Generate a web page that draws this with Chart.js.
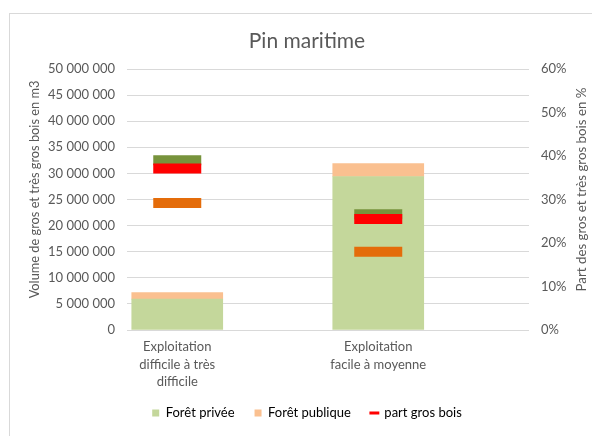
<!DOCTYPE html>
<html>
<head>
<meta charset="utf-8">
<script src="https://cdn.jsdelivr.net/npm/chart.js@4"></script>
<style>
  html, body { margin: 0; padding: 0; background: #fff; overflow: hidden; }
  #wrap { position: relative; width: 592px; height: 436px; overflow: hidden; }
  #frame { position: absolute; left: 9px; top: 13px; width: 700px; height: 600px;
           border: 1px solid #d9d9d9; box-sizing: border-box; }
  #c { position: absolute; left: 0; top: 0; }
</style>
</head>
<body>
<div id="wrap">
  <div id="frame"></div>
  <canvas id="c" width="592" height="436"></canvas>
</div>
<script>
// Catégories d'exploitabilité (libellés sur plusieurs lignes)
const categories = [
  ["Exploitation", "difficile à très", "difficile"],
  ["Exploitation", "facile à moyenne"]
];

// Volumes de gros et très gros bois (m3)
const foretPrivee   = [5900000, 29400000];
const foretPublique = [1250000, 2500000];

// Part des gros et très gros bois (%)
const partGrosBois  = [37.1, 25.5];
const partPrivee    = [39.0, 26.6];
const partPublique  = [29.2, 18.0];

// Titres des deux axes verticaux (lus de bas en haut)
const titreVolume = 'Volume de gros et très gros bois en m3';
const titrePart   = 'Part des gros et très gros bois en %';

const TXT = '#595959';
const FONT = 'Lato';

const toPoints = arr => arr.map((v, i) => ({ x: i, y: v }));
const spaced = v => String(v).replace(/\B(?=(\d{3})+(?!\d))/g, ' ');

function marker(label, values, color, order) {
  return {
    type: 'line', label, data: toPoints(values), yAxisID: 'y1',
    showLine: false, pointStyle: 'line',
    pointRadius: 24, pointHoverRadius: 24,
    pointBorderWidth: 10, pointHoverBorderWidth: 10,
    borderColor: color, backgroundColor: color, order
  };
}

// Draws both vertical axis titles rotated bottom-to-top
const verticalTitles = {
  id: 'verticalTitles',
  afterDraw(chart) {
    const { ctx, chartArea } = chart;
    const midY = (chartArea.top + chartArea.bottom) / 2 - 10;
    const items = [
      { text: titreVolume, x: 35, size: 12.8 },
      { text: titrePart, x: 582, size: 13.3 }
    ];
    ctx.save();
    ctx.fillStyle = TXT;
    ctx.textAlign = 'center';
    ctx.textBaseline = 'middle';
    for (const it of items) {
      ctx.save();
      ctx.font = it.size + 'px ' + FONT;
      ctx.translate(it.x, midY);
      ctx.rotate(-Math.PI / 2);
      ctx.fillText(it.text, 0, 0);
      ctx.restore();
    }
    ctx.restore();
  }
};

function draw() {
  new Chart(document.getElementById('c'), {
    type: 'bar',
    plugins: [verticalTitles],
    data: {
      datasets: [
        { type: 'bar', label: 'Forêt privée', data: toPoints(foretPrivee),
          backgroundColor: '#C4D79B', yAxisID: 'y', barThickness: 91, order: 2 },
        { type: 'bar', label: 'Forêt publique', data: toPoints(foretPublique),
          backgroundColor: '#FAC090', yAxisID: 'y', barThickness: 91, order: 2 },
        marker('part gros bois', partGrosBois, '#FF0000', 0),
        marker('part gros bois forêt privée', partPrivee, '#77933C', 1),
        marker('part gros bois forêt publique', partPublique, '#E46C0A', 1)
      ]
    },
    options: {
      responsive: false,
      animation: false,
      devicePixelRatio: 1,
      events: [],
      layout: { padding: { top: 14, left: 22, right: 0, bottom: 6.5 } },
      plugins: {
        tooltip: { enabled: false },
        title: {
          display: true, text: 'Pin maritime', color: TXT,
          font: { family: FONT, size: 21, weight: 'normal' },
          padding: { top: 14.9, bottom: 14.9 }
        },
        legend: {
          position: 'bottom',
          labels: {
            usePointStyle: true, boxWidth: 7, boxHeight: 7, padding: 20,
            color: TXT, font: { family: FONT, size: 13 },
            generateLabels(chart) {
              return [0, 1, 2].map(i => {
                const ds = chart.data.datasets[i];
                const isLine = ds.type === 'line';
                return {
                  text: ds.label, datasetIndex: i, hidden: false,
                  fillStyle: isLine ? ds.borderColor : ds.backgroundColor,
                  strokeStyle: isLine ? ds.borderColor : ds.backgroundColor,
                  lineWidth: isLine ? 3 : 0,
                  pointStyle: isLine ? 'line' : 'rect'
                };
              });
            }
          }
        }
      },
      scales: {
        x: {
          type: 'linear', min: -0.25, max: 1.75, stacked: true, offset: false,
          grid: { display: false, drawTicks: false, offset: false },
          border: { display: false },
          afterBuildTicks: s => { s.ticks = categories.map((_, i) => ({ value: i })); },
          afterFit: s => { s.height = 56.5; },
          ticks: {
            autoSkip: false, maxRotation: 0, padding: 8, color: TXT,
            font: { family: FONT, size: 13, lineHeight: 1.35 },
            callback: v => categories[v]
          }
        },
        y: {
          position: 'left', stacked: true, min: 0, max: 50000000,
          grid: { color: '#d9d9d9', drawTicks: false },
          border: { display: false },
          afterFit: s => { s.width = 105; },
          ticks: {
            stepSize: 5000000, padding: 12, color: TXT,
            font: { family: FONT, size: 13 },
            callback: v => spaced(v)
          }
        },
        y1: {
          position: 'right', min: 0, max: 60,
          grid: { display: false, drawTicks: false },
          border: { display: false },
          afterFit: s => { s.width = 63; },
          ticks: {
            stepSize: 10, padding: 12, color: TXT,
            font: { family: FONT, size: 13 },
            callback: v => v + '%'
          }
        }
      }
    }
  });
}

if (document.fonts && document.fonts.load) {
  Promise.all([document.fonts.load('13px Lato'), document.fonts.load('21px Lato')])
    .then(draw, draw);
} else {
  draw();
}
</script>
</body>
</html>
